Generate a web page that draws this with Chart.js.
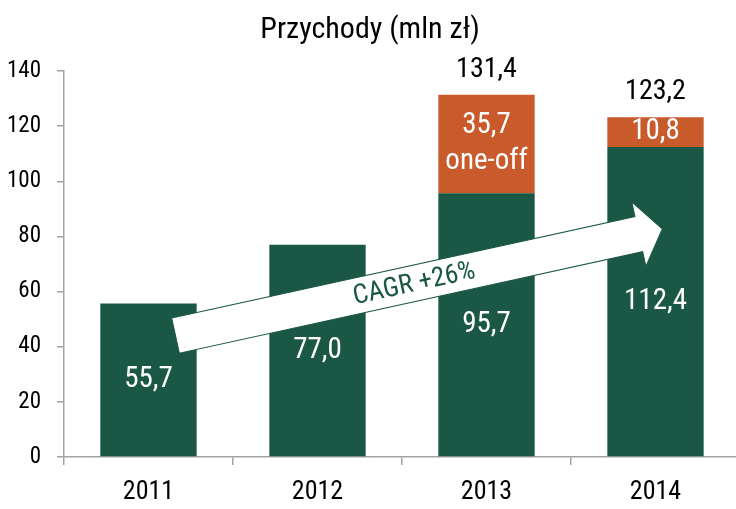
<!DOCTYPE html>
<html>
<head>
<meta charset="utf-8">
<script src="https://cdn.jsdelivr.net/npm/chart.js@4"></script>
<style>
  html, body { margin: 0; padding: 0; background: #fff; overflow: hidden; }
  canvas { display: block; }
</style>
</head>
<body>
<canvas id="myChart" width="740" height="509"></canvas>
<script>
// dane z wykresu
const lata = ['2011', '2012', '2013', '2014']
const przychodyBazowe = [55.7, 77.0, 95.7, 112.4]
const przychodyOneOff = [null, null, 35.7, 10.8]
const sumy = [null, null, 131.4, 123.2]
const opisyOneOff = [null, null, ['35,7', 'one-off'], ['10,8']]
const tickiY = [0, 20, 40, 60, 80, 100, 120, 140]
const tytul = 'Przychody (mln zł)'
const tekstCagr = 'CAGR +26%'

// strzalka CAGR w jednostkach wykresu (indeks kategorii, wartosc)
const strzalkaOd = [0.16, 44]
const strzalkaDo = [3.04, 82.7]

const ZIELONY = '#1a5745'
const POMARANCZ = '#c95a2b'
const SZARY = '#a3a3a3'
const FONT = "'Roboto Condensed', 'DejaVu Sans Condensed', sans-serif"

const fmt = (v) => v.toFixed(1).replace('.', ',')

const strzalkaPlugin = {
  id: 'strzalka',
  afterDatasetsDraw (chart) {
    const ctx = chart.ctx
    const x = chart.scales.x
    const y = chart.scales.y
    const x0 = x.getPixelForValue(strzalkaOd[0])
    const y0 = y.getPixelForValue(strzalkaOd[1])
    const x1 = x.getPixelForValue(strzalkaDo[0])
    const y1 = y.getPixelForValue(strzalkaDo[1])
    const len = Math.hypot(x1 - x0, y1 - y0)
    const ang = Math.atan2(y1 - y0, x1 - x0)
    const sw = 18 // pol szerokosci trzonu
    const hw = 33 // pol szerokosci grota
    const hl = 24 // dlugosc grota

    ctx.save()
    ctx.translate(x0, y0)
    ctx.rotate(ang)
    ctx.beginPath()
    ctx.moveTo(0, -sw)
    ctx.lineTo(len - hl, -sw)
    ctx.lineTo(len - hl, -hw)
    ctx.lineTo(len, 0)
    ctx.lineTo(len - hl, hw)
    ctx.lineTo(len - hl, sw)
    ctx.lineTo(0, sw)
    ctx.closePath()
    ctx.fillStyle = '#ffffff'
    ctx.fill()
    ctx.lineWidth = 1
    ctx.strokeStyle = ZIELONY
    ctx.stroke()

    ctx.fillStyle = ZIELONY
    ctx.font = '27px ' + FONT
    ctx.textAlign = 'center'
    ctx.textBaseline = 'middle'
    ctx.fillText(tekstCagr, len * 0.49, 1)
    ctx.restore()
  }
}

const etykietyPlugin = {
  id: 'etykiety',
  afterDatasetsDraw (chart) {
    const ctx = chart.ctx
    const meta0 = chart.getDatasetMeta(0)
    const meta1 = chart.getDatasetMeta(1)
    ctx.save()
    ctx.textAlign = 'center'
    ctx.textBaseline = 'middle'

    // wartosci w zielonych slupkach
    ctx.fillStyle = '#ffffff'
    ctx.font = '29px ' + FONT
    meta0.data.forEach((bar, i) => {
      ctx.fillText(fmt(przychodyBazowe[i]), bar.x, (bar.y + bar.base) / 2)
    })

    // wartosci one-off
    meta1.data.forEach((bar, i) => {
      const linie = opisyOneOff[i]
      if (!linie) return
      const srodek = (bar.y + bar.base) / 2
      const lh = 36
      linie.forEach((t, k) => {
        ctx.fillText(t, bar.x, srodek + (k - (linie.length - 1) / 2) * lh)
      })
    })

    // sumy nad slupkami
    ctx.fillStyle = '#000000'
    ctx.font = '28px ' + FONT
    meta1.data.forEach((bar, i) => {
      if (sumy[i] == null) return
      ctx.fillText(fmt(sumy[i]), bar.x, bar.y - 25)
    })
    ctx.restore()
  }
}

const config = {
  type: 'bar',
  data: {
    labels: lata,
    datasets: [
      {
        label: 'bazowe',
        data: przychodyBazowe,
        backgroundColor: ZIELONY,
        barPercentage: 0.57,
        categoryPercentage: 1
      },
      {
        label: 'one-off',
        data: przychodyOneOff,
        backgroundColor: POMARANCZ,
        barPercentage: 0.57,
        categoryPercentage: 1
      }
    ]
  },
  options: {
    responsive: false,
    animation: false,
    layout: { padding: 0 },
    plugins: {
      legend: { display: false },
      tooltip: { enabled: false },
      title: {
        display: true,
        text: tytul,
        color: '#000000',
        font: { family: FONT, size: 30, weight: 'normal', lineHeight: 1.2 },
        padding: { top: 12, bottom: 23 }
      }
    },
    scales: {
      x: {
        stacked: true,
        afterFit: (scale) => { scale.height = 52 },
        border: { display: true, color: SZARY, width: 1.5 },
        grid: {
          display: true,
          drawOnChartArea: false,
          drawTicks: true,
          tickLength: 8,
          color: SZARY,
          lineWidth: 1.5,
          offset: true
        },
        ticks: {
          color: '#000000',
          font: { family: FONT, size: 26 },
          padding: 12
        }
      },
      y: {
        stacked: true,
        min: 0,
        max: 140,
        afterFit: (scale) => { scale.width = 64 },
        afterBuildTicks: (scale) => { scale.ticks = tickiY.map((v) => ({ value: v })) },
        border: { display: true, color: SZARY, width: 1.5 },
        grid: {
          display: true,
          drawOnChartArea: false,
          drawTicks: true,
          tickLength: 7,
          color: SZARY,
          lineWidth: 1.5
        },
        ticks: {
          color: '#000000',
          font: { family: FONT, size: 23 },
          padding: 16
        }
      }
    }
  },
  plugins: [strzalkaPlugin, etykietyPlugin]
}

const chart = new Chart(document.getElementById('myChart'), config)
</script>
</body>
</html>
